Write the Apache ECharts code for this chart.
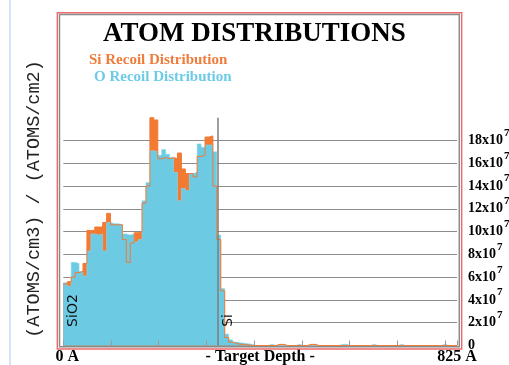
<!DOCTYPE html>
<html>
<head>
<meta charset="utf-8">
<style>
  html, body { margin: 0; padding: 0; background: #ffffff; }
  #chart { width: 509px; height: 365px; }
</style>
<script src="https://cdn.jsdelivr.net/npm/echarts@6/dist/echarts.min.js"></script>
</head>
<body>
<div id="chart"></div>
<script>
// Depth histogram: 100 bins of 8.25 A across an 825 A target.
const depthStep = 8.25;
const depthMax = 825;
const interfaceDepth = 324.5;           // SiO2 / Si boundary (A)

// Recoil densities per bin, in units of 1e7 (atoms/cm3)/(atoms/cm2)
const siRecoil = [
  5.4, 5.6, 6.0, 6.4, 6.5, 7.2, 10.1, 10.1, 10.4, 10.4,
  10.8, 11.6, 10.6, 10.6, 10.6, 9.3, 7.3, 9.0, 9.9, 10.0,
  12.5, 14.0, 20.0, 19.8, 16.4, 16.5, 16.4, 16.5, 16.4, 16.9,
  15.5, 15.1, 15.1, 14.8, 16.6, 16.7, 18.3, 18.4, 14.0, 9.3,
  4.8, 0.7, 0.3, 0.2, 0.1, 0.1, 0.05, 0, 0, 0,
  0, 0, 0, 0, 0.1, 0.1, 0, 0, 0, 0,
  0, 0, 0.1, 0.1, 0, 0, 0, 0, 0, 0,
  0, 0, 0, 0, 0, 0, 0, 0, 0, 0,
  0, 0, 0, 0, 0, 0, 0, 0, 0, 0,
  0, 0, 0, 0, 0, 0, 0, 0, 0, 0
];
const oRecoil = [
  5.5, 5.2, 7.3, 7.2, 6.5, 6.1, 8.3, 9.8, 9.7, 9.8,
  8.3, 10.8, 10.7, 10.7, 10.6, 9.8, 9.7, 9.8, 9.1, 9.3,
  12.7, 14.3, 17.1, 17.0, 16.7, 17.2, 16.8, 16.5, 15.2, 12.7,
  13.8, 13.6, 15.1, 15.2, 17.7, 17.4, 17.6, 17.6, 17.0, 9.7,
  5.0, 1.0, 0.5, 0.3, 0.25, 0.2, 0.15, 0.1, 0, 0,
  0, 0, 0.1, 0, 0, 0, 0, 0, 0, 0.1,
  0, 0, 0, 0, 0, 0, 0, 0, 0, 0,
  0.1, 0.1, 0, 0, 0, 0, 0, 0, 0.1, 0,
  0, 0, 0, 0, 0, 0.1, 0, 0, 0, 0,
  0, 0, 0, 0, 0, 0, 0.1, 0, 0, 0
];

const yTop = 20;          // plot extent; gridlines and labels stop at 18
const yLabelMax = 18;
const yStep = 2;
const xTickStep = 100;
const layerLabels = [
  { text: 'SiO2', depth: 21, level: 3.07 },
  { text: 'Si', depth: 345.5, level: 2.2 }
];

const siColor = '#f27a32';
const oColor = '#6ccae2';
const serif = '"Liberation Serif", "Times New Roman", serif';

// Each bin becomes a step from its left edge; the last value closes at depthMax.
function toSteps(values) {
  const pts = values.map((v, i) => [i * depthStep, v]);
  pts.push([depthMax, values[values.length - 1]]);
  return pts;
}

const chart = echarts.init(document.getElementById('chart'), null, { renderer: 'canvas' });

chart.setOption({
  animation: false,
  backgroundColor: '#ffffff',
  title: {
    text: 'ATOM DISTRIBUTIONS',
    left: 103,
    top: 21,
    padding: 0,
    textStyle: { fontFamily: serif, fontWeight: 'bold', fontSize: 27, color: '#000000' }
  },
  legend: [
    {
      data: [{ name: 'Si Recoil Distribution', textStyle: { color: '#f07c3c' } }],
      left: 84, top: 53, padding: 0, icon: 'none', itemWidth: 0, itemHeight: 0,
      selectedMode: false,
      textStyle: { fontFamily: serif, fontWeight: 'bold', fontSize: 15 }
    },
    {
      data: [{ name: 'O Recoil Distribution', textStyle: { color: '#6ccbe6' } }],
      left: 89, top: 70, padding: 0, icon: 'none', itemWidth: 0, itemHeight: 0,
      selectedMode: false,
      textStyle: { fontFamily: serif, fontWeight: 'bold', fontSize: 15 }
    }
  ],
  grid: { left: 63.3, right: 52, top: 117.7, bottom: 19.5, containLabel: false, outerBoundsMode: 'none' },
  xAxis: [
    {
      type: 'value', min: 0, max: depthMax, interval: xTickStep,
      z: 10,
      axisLine: { show: false },
      axisTick: { show: true, inside: true, length: 5, lineStyle: { color: '#9a9a9a', width: 1 } },
      axisLabel: { show: false },
      splitLine: { show: false }
    },
    {
      type: 'value', min: 0, max: depthMax, interval: depthMax, position: 'bottom',
      axisLine: { show: false }, axisTick: { show: false }, splitLine: { show: false },
      name: '- Target Depth -', nameLocation: 'middle', nameGap: 11, nameMoveOverlap: false,
      nameTextStyle: { fontFamily: serif, fontWeight: 'bold', fontSize: 16, color: '#000', verticalAlign: 'middle' },
      axisLabel: {
        margin: 3,
        formatter: v => v === 0 ? '{first|' + v + ' A}' : '{n|' + v + ' A}',
        rich: {
          first: { fontFamily: serif, fontWeight: 'bold', fontSize: 16, color: '#000', padding: [0, 0, 0, 8] },
          n: { fontFamily: serif, fontWeight: 'bold', fontSize: 16, color: '#000' }
        }
      }
    }
  ],
  yAxis: {
    type: 'value', min: 0, max: yTop, interval: yStep, position: 'right',
    axisLine: { show: false }, axisTick: { show: false },
    splitLine: { show: true, showMaxLine: false, lineStyle: { color: '#8c8c8c', width: 1.2 } },
    axisLabel: {
      margin: 11, align: 'left', showMaxLabel: false,
      formatter: v => v > yLabelMax ? '' : (v === 0 ? '{n|0}' : '{n|' + v + 'x10}{s|7}'),
      rich: {
        n: { fontFamily: serif, fontWeight: 'bold', fontSize: 14, color: '#000', lineHeight: 26, verticalAlign: 'middle' },
        s: { fontFamily: serif, fontWeight: 'bold', fontSize: 11, color: '#000', lineHeight: 11, verticalAlign: 'top', padding: [0, 0, 0, 1] }
      }
    }
  },
  series: [
    {
      name: 'Si Recoil Distribution',
      type: 'line', step: 'end', symbol: 'none', clip: false, z: 2,
      data: toSteps(siRecoil),
      lineStyle: { width: 0, color: siColor },
      itemStyle: { color: siColor },
      areaStyle: { color: siColor, opacity: 1 }
    },
    {
      name: 'O Recoil Distribution',
      type: 'line', step: 'end', symbol: 'none', clip: false, z: 3,
      data: toSteps(oRecoil),
      lineStyle: { width: 0.6, color: '#8fd8ec' },
      itemStyle: { color: oColor },
      areaStyle: { color: oColor, opacity: 1 },
      markPoint: {
        silent: true, symbol: 'circle', symbolSize: 1,
        itemStyle: { color: 'rgba(0,0,0,0)' },
        label: {
          show: true, position: 'inside', rotate: 90,
          fontFamily: '"DejaVu Sans", sans-serif', fontSize: 14, color: '#111',
          formatter: p => p.name
        },
        data: layerLabels.map(l => ({ name: l.text, coord: [l.depth, l.level] }))
      }
    },
    {
      name: 'Si outline',
      type: 'line', step: 'end', symbol: 'none', clip: false, z: 4,
      data: toSteps(siRecoil),
      lineStyle: { width: 1, color: siColor },
      itemStyle: { color: siColor },
      legendHoverLink: false,
      markLine: {
        silent: true, symbol: ['none', 'none'],
        label: { show: false },
        lineStyle: { color: '#7c7c7c', width: 1.5, type: 'solid' },
        data: [[{ coord: [interfaceDepth, 0] }, { coord: [interfaceDepth, yTop] }]]
      }
    }
  ],
  graphic: [
    {
      type: 'line', z: 0,
      shape: { x1: 10, y1: 0, x2: 10, y2: 365 },
      style: { stroke: '#c4dcf0', lineWidth: 1.5 }
    },
    {
      type: 'text', z: 100,
      x: 34, y: 199, rotation: Math.PI / 2,
      style: {
        text: '(ATOMS/cm3) / (ATOMS/cm2)',
        fontFamily: '"Liberation Mono", "DejaVu Sans Mono", monospace',
        fontSize: 18.5, fill: '#222',
        textAlign: 'center', textVerticalAlign: 'middle'
      }
    },
    {
      type: 'rect', z: 100, silent: true,
      shape: { x: 57.3, y: 12.7, width: 404.4, height: 336.3 },
      style: { fill: 'none', stroke: '#ee6a6a', lineWidth: 1.4 }
    },
    {
      type: 'rect', z: 100, silent: true,
      shape: { x: 59.5, y: 14.5, width: 399.8, height: 332.2 },
      style: { fill: 'none', stroke: '#8a8a8a', lineWidth: 1.5 }
    }
  ]
});
</script>
</body>
</html>
